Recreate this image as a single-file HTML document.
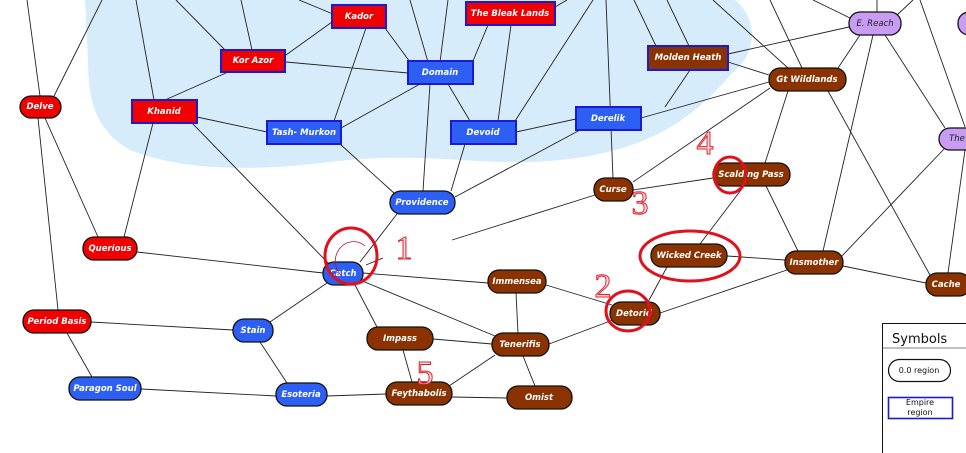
<!DOCTYPE html>
<html><head><meta charset="utf-8"><style>
html,body{margin:0;padding:0;background:#fff;}
svg{display:block;}
.n{font-family:"DejaVu Sans","Liberation Sans",sans-serif;font-size:8.5px;font-weight:bold;font-style:oblique;fill:#fff;text-anchor:middle;dominant-baseline:central;}
.nd{fill:#222;font-weight:normal;}
.e line{stroke:#222;stroke-width:0.9;}
.num{font-family:"Liberation Serif",serif;font-size:34px;fill:#fde0e0;stroke:#e0202a;stroke-width:1;text-anchor:middle;}
</style></head><body>
<svg width="966" height="453" viewBox="0 0 966 453" xmlns="http://www.w3.org/2000/svg">
<path d="M85,0 L735,0 C760,20 755,55 735,70 C700,110 660,150 560,160 C480,168 430,150 330,162 C250,172 180,170 130,150 C95,130 88,100 88,60 Z" fill="#d6ecfa"/>
<g class="e">
<line x1="27" y1="0" x2="40" y2="96"/><line x1="102" y1="0" x2="54" y2="96"/>
<line x1="38" y1="118" x2="58" y2="310"/><line x1="45" y1="118" x2="98" y2="237"/>
<line x1="136" y1="0" x2="154" y2="100"/><line x1="176" y1="0" x2="225" y2="50"/><line x1="241" y1="0" x2="252" y2="50"/>
<line x1="299" y1="0" x2="333" y2="14"/><line x1="410" y1="0" x2="428" y2="62"/><line x1="448" y1="0" x2="440" y2="62"/>
<line x1="555" y1="7" x2="567" y2="0"/><line x1="593" y1="0" x2="515" y2="121"/><line x1="606" y1="0" x2="613" y2="178"/>
<line x1="634" y1="0" x2="656" y2="46"/><line x1="667" y1="0" x2="689" y2="46"/>
<line x1="713" y1="0" x2="788" y2="68"/><line x1="770" y1="0" x2="802" y2="68"/>
<line x1="813" y1="0" x2="850" y2="18"/><line x1="877" y1="0" x2="877" y2="12"/><line x1="913" y1="0" x2="897" y2="15"/><line x1="920" y1="0" x2="965" y2="127"/>
<line x1="165" y1="100" x2="253" y2="61"/><line x1="286" y1="55" x2="332" y2="22"/><line x1="286" y1="62" x2="408" y2="73"/>
<line x1="197" y1="117" x2="267" y2="132"/><line x1="153" y1="123" x2="124" y2="237"/><line x1="192" y1="123" x2="330" y2="265"/>
<line x1="366" y1="28" x2="334" y2="121"/><line x1="385" y1="28" x2="410" y2="62"/>
<line x1="341" y1="128" x2="420" y2="84"/><line x1="340" y1="144" x2="395" y2="194"/>
<line x1="430" y1="84" x2="423" y2="191"/><line x1="448" y1="84" x2="470" y2="121"/>
<line x1="488" y1="25" x2="473" y2="61"/><line x1="511" y1="25" x2="498" y2="121"/>
<line x1="465" y1="144" x2="451" y2="191"/><line x1="516" y1="132" x2="576" y2="119"/>
<line x1="455" y1="197" x2="580" y2="130"/><line x1="690" y1="70" x2="665" y2="107"/><line x1="641" y1="118" x2="769" y2="82"/>
<line x1="728" y1="54" x2="849" y2="27"/><line x1="728" y1="62" x2="769" y2="75"/>
<line x1="633" y1="182" x2="770" y2="88"/><line x1="633" y1="190" x2="713" y2="178"/><line x1="452" y1="240" x2="595" y2="195"/>
<line x1="860" y1="35" x2="838" y2="68"/><line x1="873" y1="35" x2="823" y2="251"/><line x1="885" y1="35" x2="945" y2="128"/>
<line x1="788" y1="91" x2="765" y2="163"/><line x1="828" y1="91" x2="930" y2="275"/>
<line x1="965" y1="150" x2="948" y2="273"/><line x1="945" y1="148" x2="840" y2="258"/>
<line x1="744" y1="186" x2="700" y2="244"/><line x1="766" y1="186" x2="798" y2="251"/>
<line x1="727" y1="256" x2="785" y2="260"/><line x1="667" y1="267" x2="648" y2="302"/>
<line x1="843" y1="266" x2="926" y2="283"/><line x1="660" y1="313" x2="787" y2="270"/>
<line x1="546" y1="285" x2="612" y2="305"/><line x1="516" y1="293" x2="518" y2="333"/><line x1="549" y1="344" x2="613" y2="320"/>
<line x1="137" y1="252" x2="323" y2="273"/><line x1="363" y1="273" x2="488" y2="283"/><line x1="360" y1="280" x2="495" y2="336"/>
<line x1="355" y1="285" x2="377" y2="327"/><line x1="327" y1="283" x2="270" y2="322"/>
<line x1="366" y1="265" x2="383" y2="258"/><line x1="360" y1="262" x2="397" y2="214"/>
<line x1="91" y1="322" x2="233" y2="330"/><line x1="67" y1="333" x2="92" y2="377"/>
<line x1="260" y1="342" x2="287" y2="383"/><line x1="141" y1="389" x2="276" y2="396"/><line x1="327" y1="396" x2="386" y2="394"/>
<line x1="433" y1="339" x2="492" y2="344"/><line x1="403" y1="350" x2="412" y2="382"/>
<line x1="449" y1="386" x2="495" y2="355"/><line x1="452" y1="397" x2="507" y2="398"/><line x1="523" y1="356" x2="535" y2="386"/>
</g>
<!-- rect nodes -->
<g stroke="#1a1ad0" stroke-width="2">
<rect x="332" y="5" width="54" height="23" fill="#f00000"/>
<rect x="466" y="2" width="89" height="23" fill="#f00000"/>
<rect x="221" y="50" width="64" height="22" fill="#f00000"/>
<rect x="132" y="100" width="65" height="23" fill="#f00000"/>
<rect x="408" y="61" width="65" height="23" fill="#2e5ff5"/>
<rect x="267" y="121" width="74" height="23" fill="#2e5ff5"/>
<rect x="451" y="121" width="65" height="23" fill="#2e5ff5"/>
<rect x="576" y="107" width="65" height="23" fill="#2e5ff5"/>
<rect x="648" y="46" width="80" height="24" fill="#8b3300"/>
</g>
<g stroke="#111" stroke-width="1.3">
<rect x="20" y="96" width="41" height="22" rx="11" fill="#f00000"/>
<rect x="83" y="237" width="54" height="23" rx="11" fill="#f00000"/>
<rect x="23" y="310" width="68" height="23" rx="11" fill="#f00000"/>
<rect x="390" y="191" width="65" height="23" rx="11" fill="#2e5ff5"/>
<rect x="323" y="262" width="40" height="23" rx="11" fill="#2e5ff5"/>
<rect x="233" y="319" width="40" height="23" rx="11" fill="#2e5ff5"/>
<rect x="69" y="377" width="72" height="23" rx="11" fill="#2e5ff5"/>
<rect x="276" y="383" width="51" height="23" rx="11" fill="#2e5ff5"/>
<rect x="594" y="178" width="39" height="23" rx="11" fill="#8b3300"/>
<rect x="713" y="163" width="77" height="23" rx="11" fill="#8b3300"/>
<rect x="769" y="68" width="77" height="23" rx="11" fill="#8b3300"/>
<rect x="651" y="244" width="76" height="23" rx="11" fill="#8b3300"/>
<rect x="785" y="251" width="58" height="23" rx="11" fill="#8b3300"/>
<rect x="926" y="273" width="44" height="23" rx="11" fill="#8b3300"/>
<rect x="610" y="302" width="50" height="23" rx="11" fill="#8b3300"/>
<rect x="488" y="270" width="58" height="23" rx="11" fill="#8b3300"/>
<rect x="367" y="327" width="66" height="23" rx="11" fill="#8b3300"/>
<rect x="492" y="333" width="57" height="23" rx="11" fill="#8b3300"/>
<rect x="386" y="382" width="66" height="23" rx="11" fill="#8b3300"/>
<rect x="507" y="386" width="65" height="23" rx="11" fill="#8b3300"/>
<rect x="849" y="12" width="52" height="23" rx="11" fill="#c89cf2"/>
<rect x="939" y="128" width="40" height="22" rx="11" fill="#c89cf2"/>
<rect x="958" y="12" width="30" height="23" rx="11" fill="#c89cf2"/>
</g>
<g class="n">
<text x="359" y="17">Kador</text><text x="510" y="14">The Bleak Lands</text><text x="253" y="61">Kor Azor</text>
<text x="164" y="112">Khanid</text><text x="440" y="73">Domain</text><text x="304" y="133">Tash- Murkon</text>
<text x="483" y="133">Devoid</text><text x="608" y="119">Derelik</text><text x="688" y="58">Molden Heath</text>
<text x="40" y="107">Delve</text><text x="110" y="249">Querious</text><text x="57" y="322">Period Basis</text>
<text x="422" y="203">Providence</text><text x="343" y="274">Catch</text><text x="253" y="331">Stain</text>
<text x="105" y="389">Paragon Soul</text><text x="301" y="395">Esoteria</text><text x="613" y="190">Curse</text>
<text x="751" y="175">Scalding Pass</text><text x="807" y="80">Gt Wildlands</text><text x="689" y="256">Wicked Creek</text>
<text x="814" y="263">Insmother</text><text x="946" y="285">Cache</text><text x="634" y="314">Detorid</text>
<text x="517" y="282">Immensea</text><text x="400" y="339">Impass</text><text x="520" y="345">Tenerifis</text>
<text x="419" y="394">Feythabolis</text><text x="539" y="398">Omist</text>
<text class="nd" x="875" y="24">E. Reach</text><text class="nd" x="957" y="139">The</text>
</g>
<!-- symbols -->
<rect x="882.5" y="323.5" width="90" height="140" fill="#fff" stroke="#111"/>
<line x1="883" y1="348" x2="966" y2="348" stroke="#999" stroke-width="1.2"/>
<text x="892" y="343" font-family="DejaVu Sans,sans-serif" font-size="13" fill="#111">Symbols</text>
<rect x="888.5" y="359.5" width="62" height="22" rx="11" fill="#fff" stroke="#111" stroke-width="1.2"/>
<text x="919" y="373" font-family="DejaVu Sans,sans-serif" font-size="8" fill="#111" text-anchor="middle">0.0 region</text>
<rect x="888.5" y="397.5" width="64" height="21" fill="#fff" stroke="#1a1ad0" stroke-width="1.6"/>
<text x="920" y="405" font-family="DejaVu Sans,sans-serif" font-size="8" fill="#111" text-anchor="middle">Empire</text>
<text x="920" y="415" font-family="DejaVu Sans,sans-serif" font-size="8" fill="#111" text-anchor="middle">region</text>
<!-- annotations -->
<g fill="none" stroke="#e0101e" stroke-width="3">
<ellipse cx="351" cy="256" rx="26" ry="28"/>
<ellipse cx="628" cy="311" rx="22" ry="20"/>
<ellipse cx="690" cy="256" rx="50" ry="25"/>
<ellipse cx="730" cy="175" rx="16" ry="18"/>
</g>
<path d="M342,276 A15,16 0 0 1 365,246" fill="none" stroke="#c01030" stroke-width="0.8"/>
<text class="num" x="404" y="259">1</text>
<text class="num" x="603" y="297">2</text>
<text class="num" x="640" y="214">3</text>
<text class="num" x="705" y="154">4</text>
<text class="num" x="425" y="384">5</text>
</svg>
</body></html>
